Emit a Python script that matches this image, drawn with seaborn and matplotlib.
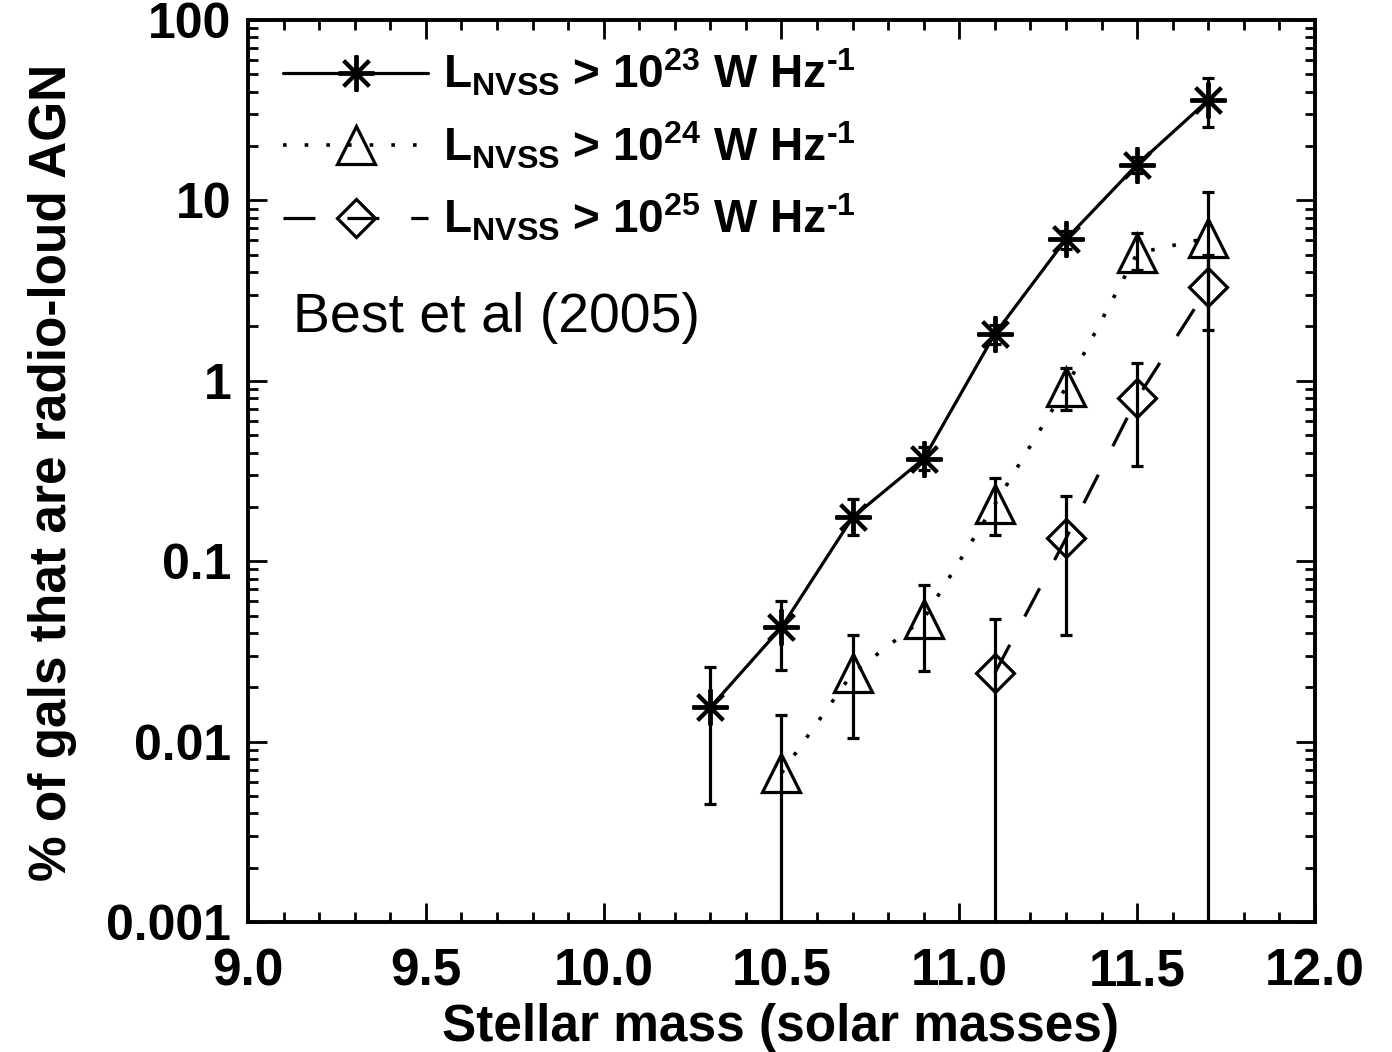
import numpy as np
import pandas as pd
import matplotlib
matplotlib.use("Agg")
import matplotlib.pyplot as plt
import seaborn as sns
from matplotlib.lines import Line2D
from matplotlib.ticker import (MultipleLocator, FixedLocator, FixedFormatter,
                               LogLocator, NullFormatter, FormatStrFormatter)

# ---- data ----
mass_23 = [10.3, 10.5, 10.7, 10.9, 11.1, 11.3, 11.5, 11.7]
pct_23 = [0.0155, 0.043, 0.175, 0.37, 1.82, 6.1, 15.8, 36.0]
lo_23 = [0.0045, 0.025, 0.14, 0.32, 1.6, 5.4, 14.2, 25.5]
hi_23 = [0.026, 0.060, 0.22, 0.43, 2.05, 6.8, 17.5, 47.5]

mass_24 = [10.5, 10.7, 10.9, 11.1, 11.3, 11.5, 11.7]
pct_24 = [0.0067, 0.024, 0.048, 0.207, 0.92, 5.1, 6.2]
lo_24 = [0.0001, 0.0105, 0.0245, 0.14, 0.69, 4.1, 0.0001]
hi_24 = [0.014, 0.039, 0.074, 0.29, 1.18, 6.6, 11.1]

mass_25 = [11.1, 11.3, 11.5, 11.7]
pct_25 = [0.024, 0.134, 0.80, 3.3]
lo_25 = [0.0001, 0.039, 0.337, 1.92]
hi_25 = [0.048, 0.23, 1.26, 5.0]

labels = ["L$_{NVSS}$ > 10$^{23}$ W Hz$^{\u2010 1}$",
          "L$_{NVSS}$ > 10$^{24}$ W Hz$^{\u2010 1}$",
          "L$_{NVSS}$ > 10$^{25}$ W Hz$^{\u2010 1}$"]
ytick_vals = [0.001, 0.01, 0.1, 1, 10, 100]
ytick_labels = ["0.001", "0.01", "0.1", "1", "10", "100"]

# ---- style ----
sns.set_style("ticks")
plt.rcParams["font.family"] = ["Liberation Sans", "DejaVu Sans"]
plt.rcParams["mathtext.default"] = "regular"
for key in ["text.color", "axes.labelcolor", "xtick.color", "ytick.color", "axes.edgecolor"]:
    plt.rcParams[key] = "black"

fig = plt.figure(figsize=(13.92, 10.52), dpi=100)
ax = fig.add_axes([248 / 1392, 1 - 922 / 1052, (1315 - 248) / 1392, (922 - 20) / 1052])

series = [
    (mass_23, pct_23, lo_23, hi_23, (8, 2, 0), 26, "-", "black", 2.8),
    (mass_24, pct_24, lo_24, hi_24, "^", 27, (0, (1, 5)), "none", 2.3),
    (mass_25, pct_25, lo_25, hi_25, "D", 19, (0, (10, 10)), "none", 2.3),
]

handles = []
for (m, p, lo, hi, mk, ms, ls, fc, mew), lab in zip(series, labels):
    df = pd.DataFrame({"mass": m, "pct": p})
    lw = 2.6 if ls == (0, (1, 5)) else 2.3
    sns.lineplot(data=df, x="mass", y="pct", ax=ax, color="black",
                 estimator=None, sort=False, linewidth=lw, linestyle=ls,
                 marker=mk, markersize=ms, markeredgecolor="black",
                 markerfacecolor=fc, markeredgewidth=mew, legend=False)
    p_arr = np.array(p)
    yerr = np.vstack([p_arr - np.array(lo), np.array(hi) - p_arr])
    ax.errorbar(m, p, yerr=yerr, fmt="none", ecolor="black",
                elinewidth=2.3, capsize=4.3, capthick=2.3)
    handles.append(Line2D([], [], color="black", linewidth=lw, linestyle=ls,
                          marker=mk, markersize=ms, markeredgecolor="black",
                          markerfacecolor=fc, markeredgewidth=mew))

ax.set_yscale("log")
ax.set_xlim(9.0, 12.0)
ax.set_ylim(0.001, 100)

ax.xaxis.set_major_locator(MultipleLocator(0.5))
ax.xaxis.set_minor_locator(MultipleLocator(0.1))
ax.xaxis.set_major_formatter(FormatStrFormatter("%.1f"))
ax.yaxis.set_major_locator(FixedLocator(ytick_vals))
ax.yaxis.set_major_formatter(FixedFormatter(ytick_labels))
ax.yaxis.set_minor_locator(LogLocator(base=10, subs=np.arange(2, 10)))
ax.yaxis.set_minor_formatter(NullFormatter())

ax.tick_params(which="both", direction="in", top=True, right=True,
               color="black", width=2)
ax.tick_params(which="major", length=14)
ax.tick_params(which="minor", length=7)
ax.tick_params(axis="x", which="major", pad=18, labelsize=37)
ax.tick_params(axis="y", which="major", pad=12, labelsize=36)
for lbl in ax.get_xticklabels() + ax.get_yticklabels():
    lbl.set_fontweight("bold")

for sp in ax.spines.values():
    sp.set_linewidth(2.8)
    sp.set_color("black")

ax.set_xlabel("Stellar mass (solar masses)", fontsize=37, fontweight="bold")
ax.set_ylabel("% of gals that are radio-loud AGN", fontsize=37, fontweight="bold")
ax.xaxis.set_label_coords(0.4995, -0.090)
ax.yaxis.set_label_coords(-0.160, 0.499)

leg = ax.legend(handles, labels, loc="upper left", bbox_to_anchor=(0.007, 1.0),
                frameon=False, prop={"size": 33, "weight": "bold"},
                handlelength=3.17, handletextpad=0.33, labelspacing=0.46,
                borderaxespad=0.3, borderpad=0.3)

ax.text(0.042, 0.67, "Best et al (2005)", transform=ax.transAxes,
        fontsize=40, ha="left", va="center", color="black")

fig.savefig("out.png", dpi=100, facecolor="white")
